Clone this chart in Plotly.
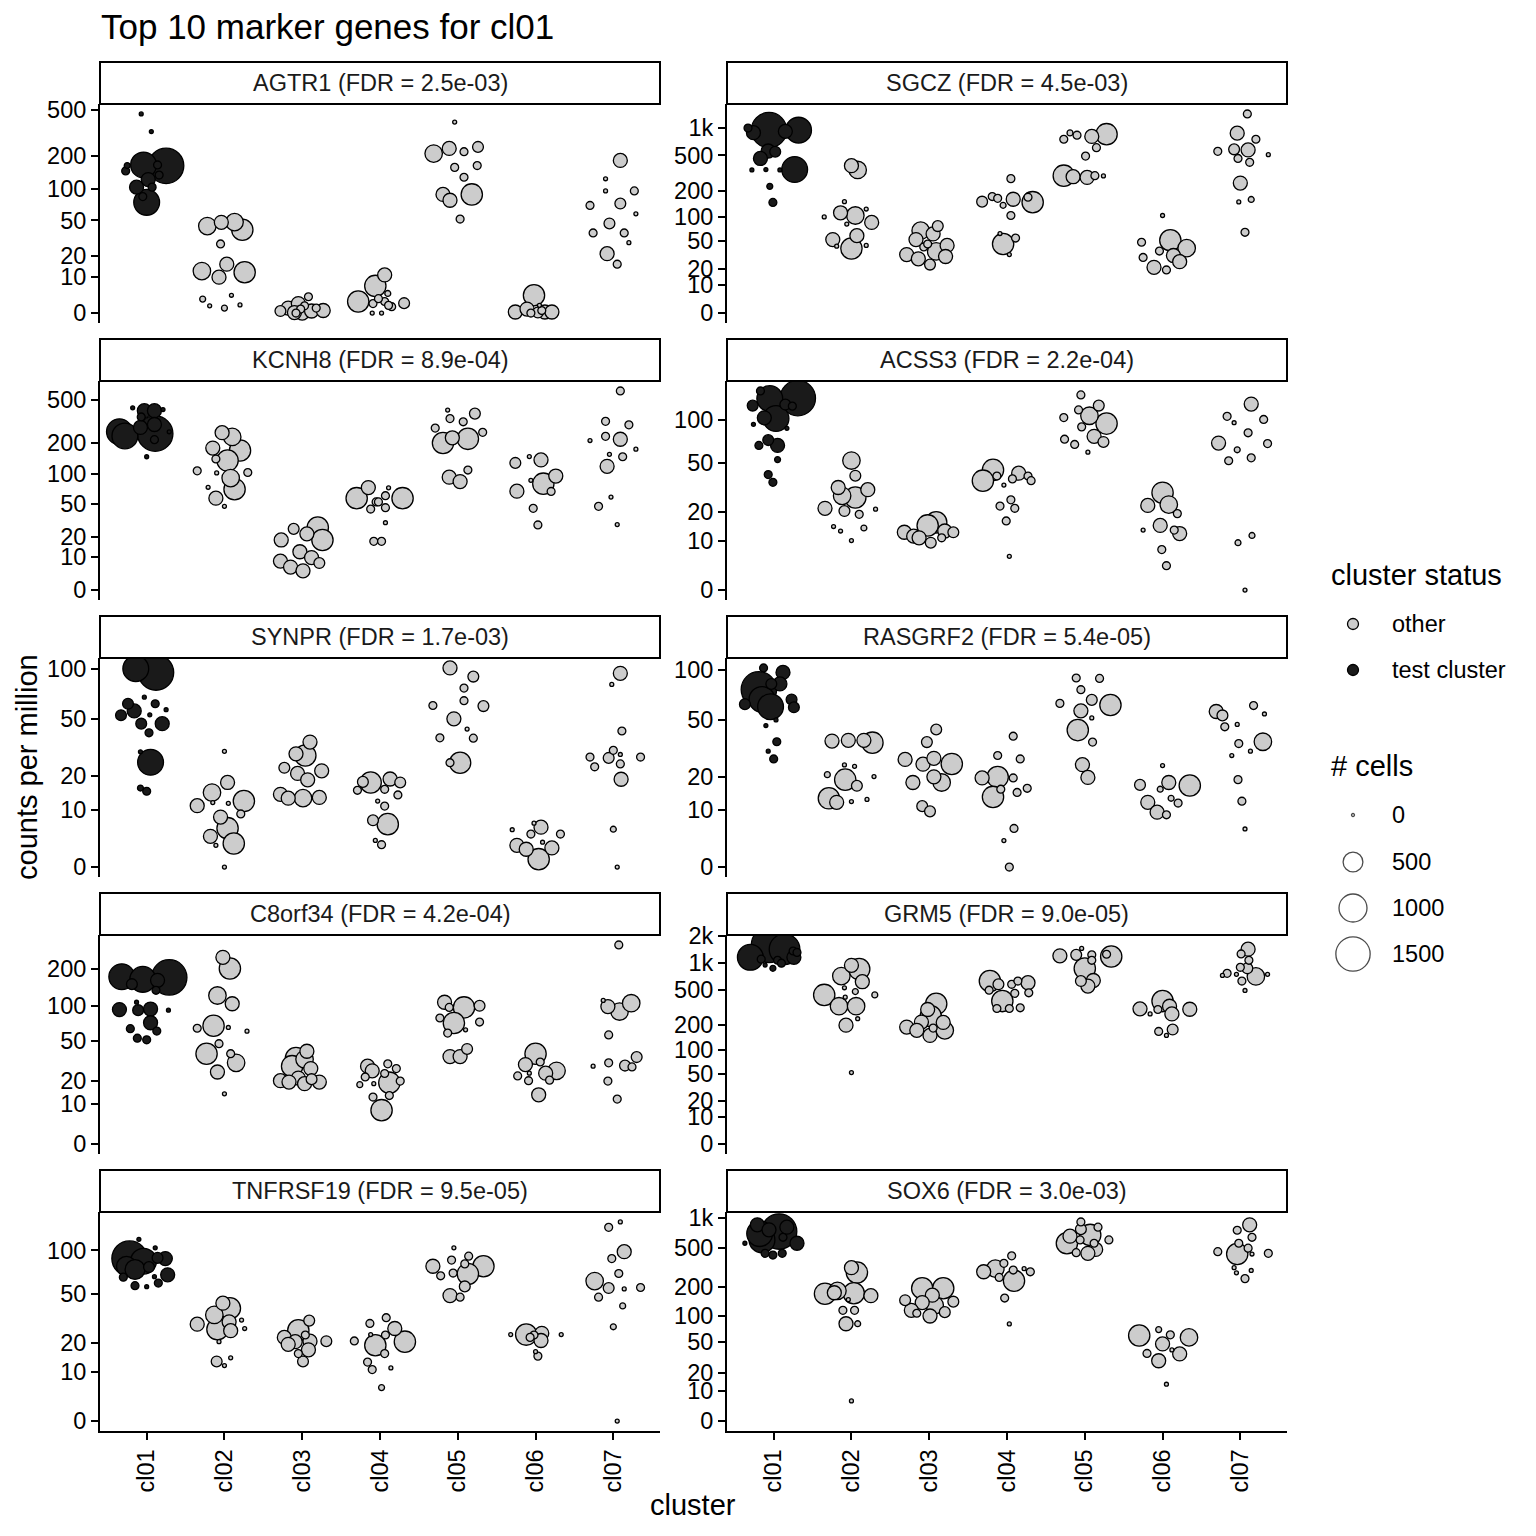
import math
import plotly.graph_objects as go

# ---------------- data ----------------
CLUSTERS = ["cl01", "cl02", "cl03", "cl04", "cl05", "cl06", "cl07"]
TEST_CLUSTER = "cl01"
GENES = ["AGTR1", "SGCZ", "KCNH8", "ACSS3", "SYNPR",
         "RASGRF2", "C8orf34", "GRM5", "TNFRSF19", "SOX6"]
FDR = ["2.5e-03", "4.5e-03", "8.9e-04", "2.2e-04", "1.7e-03",
       "5.4e-05", "4.2e-04", "9.0e-05", "9.5e-05", "3.0e-03"]
TICK_VALUES = [0, 10, 20, 50, 100, 200, 500, 1000, 2000]
TICK_LABELS = ["0", "10", "20", "50", "100", "200", "500", "1k", "2k"]
LEGEND_STATUS = ["other", "test cluster"]
LEGEND_CELLS = [0, 500, 1000, 1500]

AGTR1_CPM = {
    "cl01": [459, 324, 162, 165, 146, 163, 165, 134, 122, 104, 104, 75, 85],
    "cl02": [43.7, 47.7, 48, 40, 28, 12.5, 10, 15.7, 12, 3.1, 1.5, 1, 4.1, 1.7],
    "cl03": [0.4, 1, 2, 3.7, 0, 0.1, 0.4, 0.5, 1.5, 0.8, 1.0, 0],
    "cl04": [2.5, 6.9, 10.9, 4.6, 2, 2.5, 1.3, 2.1, 0, 0, 3.2, 1.6],
    "cl05": [391, 208, 231, 216, 238, 157, 163, 128, 89, 78.5, 89, 51.5],
    "cl06": [4.1, 0.2, 0.8, 1.6, 0.1, 0.2, 0.2, 0, 0.5],
    "cl07": [181, 124, 96, 96, 73, 70, 58, 46.5, 37, 37, 29, 21.5, 15.7],
}
AGTR1_CELLS = {
    "cl01": [20, 20, 1600, 850, 80, 45, 80, 80, 250, 250, 80, 850, 80],
    "cl02": [390, 250, 390, 580, 80, 390, 250, 250, 580, 45, 20, 45, 20, 20],
    "cl03": [150, 250, 250, 80, 250, 250, 250, 250, 80, 80, 80, 80],
    "cl04": [580, 580, 250, 45, 80, 80, 80, 150, 20, 20, 80, 80],
    "cl05": [20, 390, 250, 80, 150, 80, 80, 80, 250, 250, 580, 80],
    "cl06": [580, 250, 250, 20, 150, 250, 250, 80, 80],
    "cl07": [250, 20, 20, 80, 150, 80, 20, 150, 80, 80, 20, 250, 80],
}
AGTR1_JITTER = {
    "cl01": [-0.07, 0.06, 0.25, -0.04, -0.27, -0.25, 0.14, 0.16, 0.02, -0.13, 0.07, 0.0, -0.05],
    "cl02": [-0.22, -0.04, 0.13, 0.23, -0.05, -0.29, -0.07, 0.03, 0.26, -0.28, -0.19, 0.0, 0.09, 0.2],
    "cl03": [-0.28, -0.18, -0.05, 0.08, 0.0, -0.1, 0.12, 0.27, 0.03, -0.02, 0.18, -0.08],
    "cl04": [-0.28, -0.06, 0.06, 0.1, -0.09, 0.06, 0.15, 0.31, -0.1, 0.02, -0.02, 0.11],
    "cl05": [-0.04, -0.31, -0.11, 0.08, 0.26, -0.04, 0.25, 0.08, -0.19, -0.1, 0.18, 0.03],
    "cl06": [-0.02, -0.26, -0.11, 0.05, 0.03, 0.12, 0.21, -0.06, 0.08],
    "cl07": [0.09, -0.1, -0.1, 0.27, 0.09, -0.3, 0.29, -0.05, -0.26, 0.14, 0.2, -0.08, 0.05],
}

SGCZ_CPM = {
    "cl01": [949, 1000, 890, 949, 920, 560, 550, 463, 345, 349, 345, 349, 226, 148],
    "cl02": [385, 345, 151, 112, 104, 124, 100, 86, 82, 52.5, 59, 43, 40, 44],
    "cl03": [68, 77.5, 62, 52.5, 42, 44, 36.5, 33, 28.7, 31, 23.5, 46],
    "cl04": [276, 151, 173, 165, 161, 137, 170, 149, 104, 62.7, 46, 55, 33],
    "cl05": [754, 885, 835, 810, 857, 609, 492, 298, 290, 285, 298, 296],
    "cl06": [104, 48.5, 37, 51.5, 40.5, 32, 26, 30, 21.3, 19.3],
    "cl07": [1426, 880, 754, 555, 584, 575, 463, 420, 510, 246, 150, 160, 65],
}
SGCZ_CELLS = {
    "cl01": [1600, 80, 250, 850, 250, 250, 150, 250, 20, 20, 20, 850, 45, 80],
    "cl02": [250, 390, 20, 250, 390, 20, 20, 250, 20, 250, 250, 20, 580, 20],
    "cl03": [390, 150, 250, 250, 80, 250, 390, 250, 250, 250, 150, 80],
    "cl04": [80, 150, 80, 80, 250, 45, 80, 580, 80, 20, 580, 80, 20],
    "cl05": [80, 45, 80, 250, 580, 80, 80, 580, 250, 250, 80, 20],
    "cl06": [20, 80, 80, 580, 390, 250, 250, 80, 250, 80],
    "cl07": [80, 250, 80, 80, 150, 250, 80, 80, 20, 250, 20, 45, 80],
}
SGCZ_JITTER = {
    "cl01": [-0.06, -0.33, -0.26, 0.32, 0.15, -0.07, 0.02, -0.17, -0.28, -0.1, 0.08, 0.27, -0.05, -0.01],
    "cl02": [0.0, 0.08, -0.09, -0.14, 0.05, 0.19, -0.35, 0.26, -0.06, -0.24, 0.07, -0.19, 0.0, 0.19],
    "cl03": [-0.11, 0.11, 0.05, -0.17, -0.07, 0.23, 0.09, -0.29, -0.14, 0.21, 0.01, -0.02],
    "cl04": [0.05, -0.32, -0.19, -0.12, 0.08, -0.05, 0.27, 0.33, 0.05, -0.09, -0.05, 0.11, 0.03],
    "cl05": [-0.27, -0.19, -0.1, 0.09, 0.28, 0.15, 0.01, -0.27, -0.15, 0.03, 0.13, 0.24],
    "cl06": [0.0, -0.27, -0.04, 0.1, 0.31, 0.14, 0.22, -0.25, -0.11, 0.05],
    "cl07": [0.09, -0.04, 0.2, -0.29, -0.08, 0.1, -0.03, 0.12, 0.36, 0.0, -0.02, 0.14, 0.06],
}

KCNH8_CPM = {
    "cl01": [425, 400, 400, 410, 350, 255, 233, 280, 298, 245, 215, 255, 148],
    "cl02": [250, 228, 179, 170, 141, 136, 108, 103, 104, 91.6, 70.7, 74, 57, 46.6],
    "cl03": [25.5, 18.2, 22, 26.5, 18.2, 12.1, 8.2, 6.1, 4.9, 9.6, 7.5],
    "cl04": [73.5, 57, 57, 73, 60.5, 52, 43.5, 45, 30.3, 17.4, 17.4, 52],
    "cl05": [405, 338, 376, 316, 276, 252, 200, 224, 219, 93.5, 84.5, 110],
    "cl06": [129, 148.5, 138, 87, 80.5, 96, 67, 67.5, 44.3, 28.5],
    "cl07": [607, 319, 296, 211, 231, 217, 156, 175, 148, 119.5, 58.5, 46.6, 28.8],
}
KCNH8_CELLS = {
    "cl01": [20, 250, 250, 20, 80, 850, 850, 250, 250, 1600, 80, 20, 20],
    "cl02": [250, 390, 250, 580, 80, 580, 80, 20, 80, 390, 580, 20, 250, 20],
    "cl03": [150, 250, 250, 580, 580, 250, 250, 250, 250, 250, 150],
    "cl04": [250, 580, 580, 20, 80, 80, 80, 80, 20, 80, 80, 80],
    "cl05": [20, 80, 150, 80, 80, 80, 580, 250, 580, 250, 250, 80],
    "cl06": [150, 20, 250, 20, 580, 250, 80, 250, 80, 80],
    "cl07": [80, 80, 80, 20, 80, 250, 20, 20, 80, 250, 20, 80, 20],
}
KCNH8_JITTER = {
    "cl01": [-0.18, -0.03, 0.1, 0.21, -0.07, -0.35, -0.28, -0.08, 0.1, 0.11, 0.1, 0.29, 0.0],
    "cl02": [-0.03, 0.1, -0.15, 0.2, -0.11, 0.04, -0.35, -0.1, 0.3, 0.08, 0.13, -0.21, -0.11, 0.0],
    "cl03": [-0.11, -0.27, 0.06, 0.2, 0.26, -0.03, -0.28, -0.15, 0.01, 0.12, 0.22],
    "cl04": [-0.15, -0.3, 0.29, 0.11, 0.07, -0.05, -0.12, 0.07, 0.07, -0.08, 0.02, -0.02],
    "cl05": [-0.13, -0.1, 0.22, 0.07, -0.29, 0.32, -0.19, -0.07, 0.13, -0.11, 0.03, 0.13],
    "cl06": [-0.26, -0.08, 0.07, -0.06, 0.1, 0.26, 0.2, -0.24, -0.03, 0.03],
    "cl07": [0.09, -0.1, 0.2, -0.3, -0.1, 0.09, -0.05, 0.29, 0.12, -0.08, -0.03, -0.19, 0.05],
}

ACSS3_CPM = {
    "cl01": [156, 139, 140, 125, 127, 124, 103.6, 102.5, 93.7, 88, 73, 67, 67, 53, 41, 35.7],
    "cl02": [52.2, 40.2, 32.5, 27.8, 26.9, 31.2, 21.7, 20.5, 19.1, 21.3, 14.5, 13, 14, 10.1],
    "cl03": [16, 14.9, 12.6, 11.4, 10.9, 9.5, 10.9, 12.6, 13],
    "cl04": [44.5, 36.8, 40, 42, 40, 36.8, 38, 34, 25.7, 22.7, 21.7, 16.5, 6.1],
    "cl05": [147, 125, 117, 107, 94.7, 104, 90, 77.5, 74, 68, 70.8, 60],
    "cl06": [29.5, 23, 23.4, 19.4, 13.3, 14.9, 13.3, 12.2, 7.7, 4.1],
    "cl07": [128, 106, 96, 101, 82, 69.6, 69, 62.4, 52, 54.6, 11.6, 9.5, 0],
}
ACSS3_CELLS = {
    "cl01": [80, 850, 1600, 150, 150, 80, 250, 850, 20, 20, 150, 250, 80, 45, 80, 80],
    "cl02": [390, 150, 250, 390, 580, 250, 250, 150, 80, 20, 20, 20, 45, 20],
    "cl03": [580, 580, 250, 250, 250, 150, 80, 150, 250],
    "cl04": [580, 580, 80, 250, 80, 80, 80, 20, 80, 80, 80, 80, 20],
    "cl05": [80, 150, 80, 390, 580, 80, 80, 250, 80, 80, 150, 20],
    "cl06": [580, 250, 390, 80, 20, 250, 80, 250, 80, 80],
    "cl07": [250, 80, 20, 80, 80, 250, 80, 45, 80, 80, 45, 45, 20],
}
ACSS3_JITTER = {
    "cl01": [-0.17, -0.05, 0.31, -0.27, 0.15, 0.24, -0.12, 0.03, -0.26, 0.17, -0.07, 0.05, -0.19, 0.05, -0.07, -0.01],
    "cl02": [0.0, 0.05, -0.17, -0.12, 0.05, 0.21, -0.34, -0.09, 0.1, 0.31, -0.23, -0.14, 0.16, 0.0],
    "cl03": [0.09, -0.02, -0.32, -0.2, -0.13, 0.02, 0.16, 0.31, 0.2],
    "cl04": [-0.18, -0.31, -0.13, 0.15, 0.27, 0.31, 0.07, -0.04, 0.05, -0.09, 0.1, -0.01, 0.03],
    "cl05": [-0.05, 0.18, -0.08, 0.06, 0.28, -0.27, -0.04, 0.12, -0.26, -0.13, 0.24, 0.04],
    "cl06": [0.0, -0.19, 0.08, 0.19, -0.25, -0.03, 0.15, 0.22, -0.01, 0.05],
    "cl07": [0.14, -0.17, -0.08, 0.3, 0.1, -0.28, 0.35, -0.04, -0.15, 0.14, 0.15, -0.03, 0.06],
}

SYNPR_CPM = {
    "cl01": [100, 95, 68, 62, 56, 52.7, 62, 57, 53, 46.6, 46.6, 40.7, 30.3, 25.5, 16, 15],
    "cl02": [30.5, 17.8, 14.6, 12.2, 11, 11.8, 11.6, 9, 8.3, 6, 4.5, 3, 3.3, 0],
    "cl03": [35.3, 29.3, 28.5, 23.2, 21, 22, 18.7, 14.1, 13, 13, 13.2],
    "cl04": [17.8, 18, 19, 17.8, 15.3, 15.6, 13.9, 12.2, 10.9, 7.6, 6.8, 3.8, 3.1],
    "cl05": [101, 90, 77, 60.5, 64.7, 60, 50, 43, 37.7, 37.5, 25.3, 25.3],
    "cl06": [7, 5.7, 6.2, 4.9, 4.9, 3.5, 3, 2.4, 2.6, 1],
    "cl07": [94, 81, 41.8, 31, 27.8, 27.4, 29, 27.8, 23.6, 24.8, 18.9, 5.8, 0],
}
SYNPR_CELLS = {
    "cl01": [850, 1600, 20, 150, 250, 150, 80, 20, 20, 150, 250, 80, 20, 850, 45, 80],
    "cl02": [20, 250, 390, 580, 250, 20, 20, 80, 250, 580, 250, 20, 580, 20],
    "cl03": [250, 250, 580, 150, 250, 250, 250, 250, 250, 390, 250],
    "cl04": [580, 150, 250, 150, 80, 80, 80, 20, 80, 150, 580, 20, 80],
    "cl05": [250, 150, 80, 80, 80, 150, 250, 20, 80, 80, 80, 580],
    "cl06": [20, 20, 250, 80, 80, 20, 250, 250, 250, 580],
    "cl07": [250, 20, 80, 80, 80, 150, 20, 80, 80, 80, 250, 45, 20],
}
SYNPR_JITTER = {
    "cl01": [-0.14, 0.12, -0.03, -0.24, -0.16, -0.33, 0.11, 0.25, 0.04, -0.07, 0.2, 0.03, -0.08, 0.05, -0.08, 0.0],
    "cl02": [0.0, 0.04, -0.16, 0.25, -0.35, -0.15, 0.05, 0.21, -0.05, 0.04, -0.18, -0.11, 0.12, 0.0],
    "cl03": [0.1, -0.08, 0.04, -0.23, -0.06, 0.25, 0.07, -0.28, -0.18, 0.01, 0.22],
    "cl04": [-0.12, -0.22, 0.13, 0.26, -0.29, 0.06, 0.23, -0.03, 0.06, -0.09, 0.1, -0.06, 0.02],
    "cl05": [-0.1, 0.2, 0.08, -0.32, 0.08, 0.33, -0.05, 0.12, -0.23, 0.2, -0.1, 0.03],
    "cl06": [-0.02, -0.3, 0.07, -0.06, 0.32, 0.09, -0.24, -0.12, 0.21, 0.04],
    "cl07": [0.09, -0.02, 0.11, 0.0, -0.3, -0.06, 0.09, 0.35, -0.24, 0.09, 0.1, 0.0, 0.05],
}

RASGRF2_CPM = {
    "cl01": [103, 97, 83, 83, 77, 67, 60.5, 62.7, 67, 60, 50, 46, 36, 31, 27.3],
    "cl02": [36.4, 36.8, 36.8, 35.5, 20.8, 24.7, 24.1, 19, 20.1, 16.9, 13.1, 12, 12.2, 12.8],
    "cl03": [43.4, 35.8, 27.1, 25, 27.6, 25.1, 20, 18, 18, 11, 9.7],
    "cl04": [39.2, 28.9, 27.3, 19.6, 19.9, 19.6, 15.8, 16.1, 14.8, 13.5, 6, 3.8, 0],
    "cl05": [90, 89.5, 76.7, 63.4, 66.6, 62, 57, 51.5, 43, 35.8, 24.8, 19.8],
    "cl06": [24.4, 17.2, 18, 17, 15.8, 13.1, 12, 11.8, 9.5, 8.9],
    "cl07": [56.5, 53.4, 61.5, 54.5, 45.2, 46.8, 36, 35, 31, 28.9, 19, 12.3, 5.9],
}
RASGRF2_CELLS = {
    "cl01": [80, 250, 250, 150, 1600, 850, 850, 150, 150, 150, 20, 20, 80, 20, 80],
    "cl02": [250, 250, 250, 580, 45, 20, 20, 580, 20, 150, 580, 250, 20, 20],
    "cl03": [150, 150, 250, 250, 250, 580, 250, 250, 390, 150, 150],
    "cl04": [80, 80, 80, 250, 580, 80, 80, 80, 80, 580, 80, 20, 80],
    "cl05": [80, 80, 80, 80, 150, 580, 250, 20, 580, 80, 250, 250],
    "cl06": [20, 150, 250, 580, 45, 45, 250, 80, 250, 80],
    "cl07": [250, 150, 80, 20, 80, 20, 390, 80, 20, 20, 80, 80, 20],
}
RASGRF2_JITTER = {
    "cl01": [-0.13, 0.12, 0.08, -0.03, -0.19, -0.15, -0.04, -0.37, 0.23, 0.26, 0.03, -0.1, 0.04, -0.07, 0.0],
    "cl02": [-0.25, -0.04, 0.16, 0.27, -0.31, -0.09, 0.04, -0.08, 0.29, 0.07, -0.29, -0.19, 0.0, 0.2],
    "cl03": [0.09, -0.03, -0.31, -0.08, 0.06, 0.29, 0.06, -0.21, 0.16, -0.09, 0.01],
    "cl04": [0.08, -0.12, 0.17, -0.32, -0.12, 0.08, -0.08, 0.26, 0.13, -0.18, 0.09, -0.04, 0.03],
    "cl05": [-0.11, 0.19, -0.05, -0.32, 0.09, 0.33, -0.05, 0.09, -0.09, 0.1, -0.03, 0.04],
    "cl06": [0.0, -0.29, 0.08, 0.35, -0.03, 0.11, -0.19, 0.2, -0.07, 0.05],
    "cl07": [-0.31, -0.23, 0.17, 0.31, -0.2, -0.04, 0.29, -0.02, 0.13, -0.11, -0.03, 0.02, 0.06],
}

C8ORF34_CPM = {
    "cl01": [172, 164, 170, 161, 150, 134, 93, 92, 107, 94, 92, 72, 64, 61, 52.7, 51],
    "cl02": [245, 200, 121.5, 104, 67.8, 64.5, 65.5, 60.8, 47, 37.9, 37.9, 30.9, 24.9, 13.9],
    "cl03": [40, 34.5, 33.5, 28.6, 27, 21.4, 20, 19.3, 18.5, 19.3, 20.8],
    "cl04": [28.6, 30.2, 27, 25.6, 24, 22, 18, 18.5, 19, 19.8, 12.6, 13.2, 8],
    "cl05": [107, 97, 97, 100, 79, 71.6, 62.5, 73, 58.5, 42, 35.6, 35.6],
    "cl06": [37.9, 31.5, 29.7, 22.6, 24.2, 20, 24.2, 25.6, 20.3, 13.5],
    "cl07": [306, 110.8, 98.5, 89.6, 105, 56.4, 28.6, 30.9, 29, 28.1, 35.2, 19.8, 11.8],
}
C8ORF34_CELLS = {
    "cl01": [850, 850, 1600, 250, 150, 80, 250, 150, 20, 250, 20, 250, 80, 80, 80, 80],
    "cl02": [250, 580, 390, 250, 580, 80, 20, 20, 80, 580, 80, 390, 250, 20],
    "cl03": [250, 580, 390, 580, 250, 250, 250, 250, 250, 250, 150],
    "cl04": [250, 80, 80, 250, 80, 80, 45, 20, 580, 80, 80, 80, 580],
    "cl05": [250, 80, 580, 150, 80, 580, 20, 80, 80, 150, 250, 250],
    "cl06": [580, 80, 250, 80, 20, 80, 250, 390, 80, 250],
    "cl07": [80, 20, 250, 390, 390, 80, 20, 80, 150, 80, 150, 80, 80],
}
C8ORF34_JITTER = {
    "cl01": [-0.32, -0.05, 0.29, 0.14, -0.19, 0.12, -0.35, -0.11, -0.13, 0.05, 0.28, 0.05, -0.21, 0.13, -0.12, 0.0],
    "cl02": [-0.02, 0.07, -0.09, 0.1, -0.14, -0.35, 0.05, 0.29, -0.07, -0.23, 0.08, 0.15, -0.09, 0.0],
    "cl03": [0.06, -0.08, 0.03, -0.13, 0.11, -0.05, -0.28, -0.17, 0.03, 0.22, 0.12],
    "cl04": [-0.16, 0.1, 0.21, -0.1, 0.06, -0.19, -0.26, -0.08, 0.12, 0.26, -0.09, 0.12, 0.02],
    "cl05": [-0.17, -0.11, 0.08, 0.28, -0.23, -0.05, 0.1, 0.28, -0.13, 0.12, -0.1, 0.03],
    "cl06": [0.0, 0.06, -0.13, -0.23, -0.08, -0.09, 0.13, 0.27, 0.18, 0.04],
    "cl07": [0.07, -0.13, -0.07, 0.08, 0.23, -0.06, -0.26, -0.06, 0.15, 0.24, 0.3, -0.07, 0.05],
}

GRM5_CPM = {
    "cl01": [1165, 1600, 1435, 1370, 1320, 1165, 1080, 955, 877, 1000, 1110],
    "cl02": [947, 860, 718, 620, 440, 530, 480, 440, 415, 327, 327, 235, 198, 52],
    "cl03": [348, 300, 251, 215, 213, 188, 172, 183, 172, 150],
    "cl04": [631, 580, 580, 631, 604, 497, 458, 465, 374, 308, 308, 314],
    "cl05": [1209, 1240, 1465, 1240, 1079, 1260, 1190, 870, 631, 640, 554],
    "cl06": [374, 305, 267, 300, 327, 267, 302, 167, 176, 150],
    "cl07": [1435, 1270, 1079, 900, 877, 770, 730, 750, 711, 750, 631, 494],
}
GRM5_CELLS = {
    "cl01": [850, 1600, 1200, 80, 80, 250, 80, 20, 45, 80, 80],
    "cl02": [250, 580, 390, 250, 580, 20, 45, 45, 20, 390, 390, 20, 250, 20],
    "cl03": [580, 250, 580, 250, 250, 250, 250, 80, 390, 250],
    "cl04": [580, 150, 80, 80, 250, 80, 80, 80, 580, 80, 80, 80],
    "cl05": [250, 150, 20, 80, 80, 80, 580, 580, 150, 250, 250],
    "cl06": [580, 250, 20, 80, 250, 250, 250, 80, 150, 20],
    "cl07": [250, 80, 80, 80, 150, 80, 20, 20, 390, 20, 80, 20],
}
GRM5_JITTER = {
    "cl01": [-0.3, -0.06, 0.14, 0.25, 0.3, 0.26, 0.05, -0.11, -0.01, 0.1, -0.16],
    "cl02": [0.0, 0.1, -0.13, 0.14, -0.35, -0.09, 0.05, 0.3, -0.08, -0.16, 0.06, 0.08, -0.07, 0.0],
    "cl03": [0.09, -0.02, 0.02, -0.1, 0.18, -0.29, -0.16, 0.05, 0.2, 0.01],
    "cl04": [-0.22, -0.11, 0.06, 0.14, 0.27, -0.23, 0.1, 0.28, -0.06, -0.13, 0.03, 0.17],
    "cl05": [-0.32, -0.11, -0.04, 0.09, 0.09, 0.28, 0.34, 0.0, -0.05, 0.11, 0.04],
    "cl06": [0.0, -0.29, -0.16, -0.06, 0.09, 0.12, 0.35, -0.05, 0.13, 0.05],
    "cl07": [0.1, 0.01, 0.11, 0.0, 0.09, -0.17, -0.23, -0.05, 0.2, 0.35, 0.02, 0.06],
}

TNFRSF19_CPM = {
    "cl01": [118.5, 88, 78, 84.5, 74, 104, 88, 89, 77, 68, 65.5, 66, 57, 56, 59.5],
    "cl02": [42.4, 38.8, 34.4, 29, 30.3, 31.3, 26.7, 26.3, 25.6, 20.5, 13.1, 14.3, 11.8],
    "cl03": [31, 25.8, 23.5, 22.4, 20.5, 19.4, 20.7, 20.7, 17.2, 15.8, 13.1],
    "cl04": [32.7, 29.4, 26.7, 23.7, 23.5, 20.8, 19, 20.5, 15.8, 12.9, 10.6, 11.1, 6],
    "cl05": [104, 86, 91.4, 81, 78, 78, 70, 69, 67, 56.3, 48.3, 47],
    "cl06": [23.7, 23.7, 23.5, 24.3, 22.4, 23.7, 21, 16.5, 14.9],
    "cl07": [154, 142, 98, 88, 69.5, 61.5, 54.8, 54, 55.3, 47, 40.4, 27.6, 0],
}
TNFRSF19_CELLS = {
    "cl01": [20, 1600, 500, 850, 500, 20, 250, 150, 150, 250, 80, 20, 80, 20, 80],
    "cl02": [250, 580, 390, 250, 250, 20, 20, 580, 250, 20, 150, 20, 20],
    "cl03": [150, 580, 80, 250, 250, 250, 250, 150, 250, 80, 150],
    "cl04": [80, 80, 250, 20, 80, 80, 580, 580, 80, 80, 80, 20, 45],
    "cl05": [20, 80, 80, 80, 250, 580, 80, 580, 80, 150, 250, 80],
    "cl06": [20, 580, 80, 250, 80, 20, 250, 20, 80],
    "cl07": [20, 80, 250, 80, 80, 390, 150, 20, 80, 80, 45, 45, 20],
}
TNFRSF19_JITTER = {
    "cl01": [-0.1, -0.22, -0.26, -0.04, -0.15, 0.11, 0.24, 0.14, 0.03, 0.27, -0.3, 0.1, -0.15, 0.0, 0.15],
    "cl02": [-0.02, 0.07, -0.13, -0.35, 0.06, 0.22, 0.26, -0.09, 0.08, -0.07, -0.1, 0.08, 0.0],
    "cl03": [0.09, -0.05, 0.04, -0.23, -0.09, -0.18, 0.1, 0.31, 0.08, -0.05, 0.01],
    "cl04": [0.08, -0.13, 0.19, -0.12, 0.07, -0.33, -0.06, 0.32, 0.06, -0.16, -0.1, 0.14, 0.02],
    "cl05": [-0.05, -0.08, 0.14, 0.09, -0.32, 0.33, -0.06, 0.13, -0.22, 0.09, -0.1, 0.03],
    "cl06": [-0.32, -0.12, -0.02, 0.08, -0.07, 0.33, 0.07, 0.0, 0.03],
    "cl07": [0.09, -0.06, 0.14, -0.02, 0.07, -0.24, -0.06, 0.14, 0.35, -0.19, 0.12, 0.0, 0.05],
}

SOX6_CPM = {
    "cl01": [560, 857, 605, 734, 812, 643, 763, 560, 443, 426, 443, 700],
    "cl02": [317, 283, 171, 183, 173, 163, 148, 114, 114, 81.4, 81.4, 5.8, 175],
    "cl03": [195, 195, 165, 146, 138, 129, 141, 114, 99, 109, 106],
    "cl04": [418, 351, 288, 310, 300, 310, 288, 252, 233, 154, 81],
    "cl05": [915, 812, 775, 679, 660, 605, 560, 605, 560, 450, 485, 443],
    "cl06": [70, 60, 61, 57, 47.8, 40.4, 36.5, 36, 29.4, 13.1],
    "cl07": [857, 756, 643, 560, 461, 500, 436, 436, 443, 317, 281, 297, 245],
}
SOX6_CELLS = {
    "cl01": [20, 250, 850, 1600, 250, 80, 250, 250, 80, 80, 80, 850],
    "cl02": [250, 580, 580, 390, 580, 250, 20, 80, 80, 250, 45, 20, 250],
    "cl03": [580, 580, 250, 150, 250, 390, 150, 250, 250, 150, 80],
    "cl04": [80, 80, 250, 390, 80, 20, 80, 80, 580, 80, 20],
    "cl05": [80, 80, 150, 580, 250, 80, 580, 80, 80, 80, 250, 250],
    "cl06": [45, 580, 80, 390, 250, 20, 80, 250, 250, 20],
    "cl07": [250, 80, 80, 80, 80, 80, 580, 20, 80, 20, 20, 20, 80],
}
SOX6_JITTER = {
    "cl01": [-0.37, -0.21, -0.15, 0.07, 0.17, 0.12, -0.06, 0.3, -0.11, -0.01, 0.11, -0.18],
    "cl02": [0.0, 0.07, -0.34, -0.18, 0.03, 0.25, -0.04, -0.11, 0.04, -0.07, 0.08, 0.0, -0.22],
    "cl03": [-0.09, 0.18, 0.04, -0.31, -0.09, 0.07, 0.31, -0.23, 0.01, 0.2, -0.16],
    "cl04": [0.06, -0.04, -0.3, -0.15, 0.08, 0.22, 0.3, -0.1, 0.09, -0.03, 0.03],
    "cl05": [-0.05, 0.17, -0.05, 0.07, -0.19, 0.31, -0.23, -0.06, 0.12, -0.11, 0.14, 0.04],
    "cl06": [-0.05, -0.3, 0.1, 0.34, 0.0, 0.12, -0.2, 0.22, -0.05, 0.05],
    "cl07": [0.12, -0.04, 0.15, -0.02, -0.29, 0.1, -0.04, 0.15, 0.36, -0.08, -0.05, 0.14, 0.06],
}

DATA = {
    "AGTR1": (AGTR1_CPM, AGTR1_CELLS, AGTR1_JITTER),
    "SGCZ": (SGCZ_CPM, SGCZ_CELLS, SGCZ_JITTER),
    "KCNH8": (KCNH8_CPM, KCNH8_CELLS, KCNH8_JITTER),
    "ACSS3": (ACSS3_CPM, ACSS3_CELLS, ACSS3_JITTER),
    "SYNPR": (SYNPR_CPM, SYNPR_CELLS, SYNPR_JITTER),
    "RASGRF2": (RASGRF2_CPM, RASGRF2_CELLS, RASGRF2_JITTER),
    "C8orf34": (C8ORF34_CPM, C8ORF34_CELLS, C8ORF34_JITTER),
    "GRM5": (GRM5_CPM, GRM5_CELLS, GRM5_JITTER),
    "TNFRSF19": (TNFRSF19_CPM, TNFRSF19_CELLS, TNFRSF19_JITTER),
    "SOX6": (SOX6_CPM, SOX6_CELLS, SOX6_JITTER),
}

# ---------------- styling / layout ----------------
# The page places the figure 8px in from the top-left corner, so the figure is
# 1520px and all layout coordinates below are page pixels shifted by OFF.
OFF = 8
W = H = 1520
FONT = "Liberation Sans, Arial, sans-serif"
GREY = "#CCCCCC"
BLACK = "#1A1A1A"
SIZEREF = 2.55
TICK_FS = 23.5
TITLE_FS = 29
COL_X = [(100, 660), (727, 1287)]
ROW_TOP = [104, 381, 658, 935, 1212]
PANEL_H = 219
STRIP_H = 42


def tr(v):
    # pseudo-log transform used by the y scale
    return math.log10(v + 10)


def px(x):
    return (x - OFF) / W


def py(y):
    return 1 - (y - OFF) / H


fig = go.Figure()
layout = dict(
    template="none",
    width=W, height=H, margin=dict(l=0, r=0, t=0, b=0, pad=0, autoexpand=False),
    paper_bgcolor="white", plot_bgcolor="rgba(0,0,0,0)",
    font=dict(family=FONT, color="black", size=TICK_FS),
    showlegend=False, shapes=[], annotations=[],
)

for i, gene in enumerate(GENES):
    r, c = divmod(i, 2)
    ax = i + 1
    cpm, cells, jit = DATA[gene]
    pts = []
    for k, cl in enumerate(CLUSTERS):
        for v, n, j in zip(cpm[cl], cells[cl], jit[cl]):
            pts.append((n, k + 1 + j, tr(v), cl == TEST_CLUSTER))
    pts.sort(key=lambda p: -p[0])
    fig.add_trace(go.Scatter(
        x=[p[1] for p in pts], y=[p[2] for p in pts], mode="markers",
        marker=dict(size=[p[0] for p in pts], sizemode="area", sizeref=SIZEREF,
                    sizemin=1.5, color=[BLACK if p[3] else GREY for p in pts],
                    line=dict(color="black", width=1.3), opacity=1),
        xaxis=f"x{ax}", yaxis=f"y{ax}", hoverinfo="skip", showlegend=False,
        cliponaxis=False,
    ))
    tmax = max(p[2] for p in pts)
    tmin = tr(0)
    pad = 0.05 * (tmax - tmin)
    x0, x1 = COL_X[c]
    top = ROW_TOP[r]
    bot = top + PANEL_H
    xa = dict(domain=[px(x0), px(x1)], range=[0.4, 7.6], anchor=f"y{ax}",
              showgrid=False, zeroline=False, automargin=False)
    if r == 4:
        xa.update(showline=True, linecolor="black", linewidth=2, ticks="outside",
                  ticklen=7, tickwidth=2, tickcolor="black",
                  tickvals=list(range(1, 8)), ticktext=CLUSTERS, tickangle=-90,
                  tickfont=dict(size=TICK_FS, color="black", family=FONT))
    else:
        xa.update(showline=False, showticklabels=False, ticks="")
    ya = dict(domain=[py(bot), py(top)], range=[tmin - pad, tmax + pad],
              anchor=f"x{ax}", showgrid=False, zeroline=False, showline=True,
              linecolor="black", linewidth=2, ticks="outside", ticklen=7,
              tickwidth=2, tickcolor="black", automargin=False,
              tickvals=[tr(v) for v in TICK_VALUES], ticktext=TICK_LABELS,
              tickfont=dict(size=TICK_FS, color="black", family=FONT))
    layout["xaxis" if ax == 1 else f"xaxis{ax}"] = xa
    layout["yaxis" if ax == 1 else f"yaxis{ax}"] = ya
    # strip
    layout["shapes"].append(dict(type="rect", xref="paper", yref="paper",
                                 x0=px(x0), x1=px(x1), y0=py(top), y1=py(top - STRIP_H),
                                 line=dict(color="black", width=2), fillcolor="white"))
    layout["annotations"].append(dict(
        text=f"{gene} (FDR = {FDR[i]})", xref="paper", yref="paper",
        x=px((x0 + x1) / 2), y=py(top - STRIP_H / 2), showarrow=False,
        xanchor="center", yanchor="middle",
        font=dict(size=TICK_FS, color="#1A1A1A", family=FONT)))

# titles
layout["annotations"] += [
    dict(text="Top 10 marker genes for cl01", xref="paper", yref="paper",
         x=px(99), y=py(27), xanchor="left", yanchor="middle", showarrow=False,
         font=dict(size=35, family=FONT)),
    dict(text="counts per million", xref="paper", yref="paper", x=px(27), y=py(767),
         textangle=-90, xanchor="center", yanchor="middle", showarrow=False,
         font=dict(size=TITLE_FS, family=FONT)),
    dict(text="cluster", xref="paper", yref="paper", x=px(693), y=py(1505),
         xanchor="center", yanchor="middle", showarrow=False,
         font=dict(size=TITLE_FS, family=FONT)),
]

# legend (drawn manually on a small hidden axis)
LX0, LX1, LY0, LY1 = 1305, 1528, 540, 1000
layout["xaxis11"] = dict(domain=[px(LX0), px(LX1)], range=[LX0, LX1], visible=False,
                         anchor="y11", fixedrange=True, automargin=False)
layout["yaxis11"] = dict(domain=[py(LY1), py(LY0)], range=[LY1, LY0], visible=False,
                         anchor="x11", fixedrange=True, automargin=False)
KEY_X = 1353
status_y = [624, 670]
fig.add_trace(go.Scatter(
    x=[KEY_X] * 2, y=status_y, mode="markers",
    marker=dict(size=11, color=[GREY, BLACK], line=dict(color="black", width=1.3)),
    xaxis="x11", yaxis="y11", hoverinfo="skip", showlegend=False))
cells_y = [815, 862, 908, 954]
fig.add_trace(go.Scatter(
    x=[KEY_X] * len(LEGEND_CELLS), y=cells_y, mode="markers",
    marker=dict(size=[max(n, 1) for n in LEGEND_CELLS], sizemode="area",
                sizeref=SIZEREF, sizemin=1.5, color="white",
                line=dict(color="black", width=1.3)),
    xaxis="x11", yaxis="y11", hoverinfo="skip", showlegend=False))
layout["annotations"] += [
    dict(text="cluster status", xref="paper", yref="paper", x=px(1329), y=py(575),
         xanchor="left", yanchor="middle", showarrow=False, font=dict(size=TITLE_FS, family=FONT)),
    dict(text="# cells", xref="paper", yref="paper", x=px(1329), y=py(766),
         xanchor="left", yanchor="middle", showarrow=False, font=dict(size=TITLE_FS, family=FONT)),
]
for lab, yy in zip(LEGEND_STATUS, status_y):
    layout["annotations"].append(dict(text=lab, xref="paper", yref="paper", x=px(1390), y=py(yy),
                                      xanchor="left", yanchor="middle", showarrow=False,
                                      font=dict(size=TICK_FS, family=FONT)))
for n, yy in zip(LEGEND_CELLS, cells_y):
    layout["annotations"].append(dict(text=str(n), xref="paper", yref="paper", x=px(1390), y=py(yy),
                                      xanchor="left", yanchor="middle", showarrow=False,
                                      font=dict(size=TICK_FS, family=FONT)))

fig.update_layout(**layout)
fig.write_html("out.html")
